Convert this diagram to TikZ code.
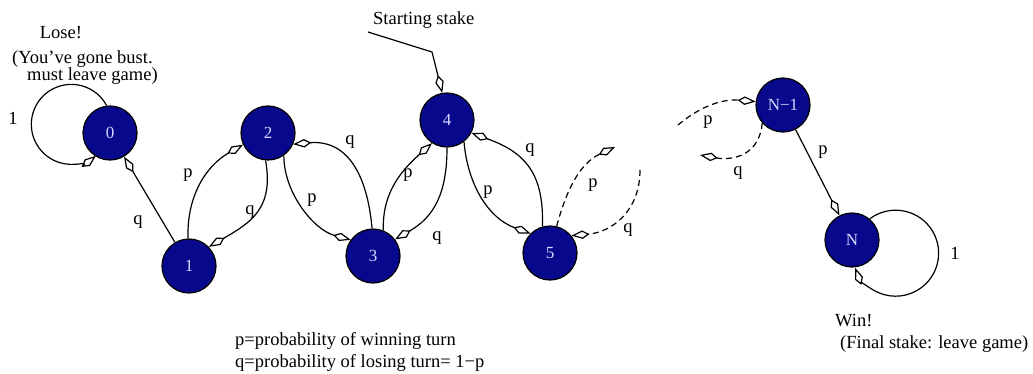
\documentclass[tikz,border=0pt]{standalone}
\usepackage{fontspec}
\setmainfont{Liberation Serif}
\usetikzlibrary{arrows.meta}
\definecolor{navy}{RGB}{8,8,140}
\definecolor{pale}{RGB}{215,215,255}
\begin{document}
\begin{tikzpicture}[x=1pt,y=1pt,
  state/.style={circle,draw=black,line width=1.2pt,fill=navy,minimum size=54pt,inner sep=0pt,text=pale,font=\fontsize{17}{20}\selectfont},
  lbl/.style={font=\fontsize{18.5}{22}\selectfont,inner sep=0pt},
  arr/.style={line width=1.2pt,-{Kite[open,length=18pt,width=8.5pt,inset=7pt,line width=1.2pt]}},
  dsh/.style={dash pattern=on 6pt off 4pt},
]
\fill[white] (0,0) rectangle (1033,373);
\useasboundingbox (0,0) rectangle (1033,373);

% states
\node[state] (n0) at (110,240) {0};
\node[state] (n1) at (189,107) {1};
\node[state] (n2) at (268,240) {2};
\node[state] (n3) at (373,117) {3};
\node[state] (n4) at (447,253) {4};
\node[state] (n5) at (550,120) {5};
\node[state] (nN1) at (783,268) {N−1};
\node[state] (nN) at (852,133) {N};

% free ends
\coordinate (ss1) at (368,341);
\coordinate (ss2) at (432,321);
\coordinate (d1) at (615,226);
\coordinate (d2) at (640,203);
\coordinate (d3) at (678,248);
\coordinate (d4) at (700,218);

% connectors
\draw[arr] (n0.97) arc[start angle=28,end angle=308,radius=40];
\draw[arr] (n1) -- (n0);
\draw[arr] (n1.92) to[out=92,in=210] (n2.205);
\draw[arr] (n2.265) to[out=280,in=30,looseness=1.2] (n1.44);
\draw[arr] (n2.305) to[out=270,in=165,looseness=0.9] (n3.144);
\draw[arr] (n3.92) to[out=95,in=5,looseness=1.2] (n2.336);
\draw[arr] (n3.68) to[out=92,in=222] (n4.237);
\draw[arr] (n4.270) to[out=270,in=30,looseness=1.1] (n3.37);
\draw[arr] (n4.308) to[out=275,in=160] (n5.135);
\draw[arr] (n5.106) to[out=88,in=340,looseness=1.2] (n4.332);
\draw[arr,dsh] (n5.76) to[out=75,in=205] (d1);
\draw[arr,dsh] (d2) to[out=270,in=5,looseness=1.1] (n5.39);
\draw[arr,dsh] (d3) to[out=40,in=175] (nN1.173);
\draw[arr,dsh] (nN1.221) to[out=265,in=350,looseness=1.2] (d4);
\draw[arr] (nN1) -- (nN);
\draw[arr] (nN.50) arc[start angle=127,end angle=-160,radius=43];
\draw[arr] (ss1) -- (ss2) -- (n4.100);

% edge labels
\node[lbl] (l0) at (13,255) {1};
\node[lbl] (l10) at (138,151) {q};
\node[lbl] (l12) at (188,198) {p};
\node[lbl] (l21) at (250,161) {q};
\node[lbl] (l23) at (312,173) {p};
\node[lbl] (l32) at (350,231) {q};
\node[lbl] (l34) at (408,198) {p};
\node[lbl] (l43) at (437,135) {q};
\node[lbl] (l45) at (488,181) {p};
\node[lbl] (l54) at (530,223) {q};
\node[lbl] (l5p) at (593,188) {p};
\node[lbl] (l5q) at (628,143) {q};
\node[lbl] (lNp) at (708,251) {p};
\node[lbl] (lNq) at (738,200) {q};
\node[lbl] (lNN) at (823,221) {p};
\node[lbl] (lN) at (955,120) {1};

% texts
\node[lbl,anchor=base] (lose) at (61,334) {Lose!};
\node[lbl,anchor=base west] (bust) at (12,309.5) {(You’ve gone bust.};
\node[lbl,anchor=base west] (leave) at (27,292) {must leave game)};
\node[lbl,anchor=base west] (start) at (373,348) {Starting stake};
\node[lbl,anchor=base west] (defp) at (235,28) {p=probability of winning turn};
\node[lbl,anchor=base west] (defq) at (235,6) {q=probability of losing turn= 1−p};
\node[lbl,anchor=base west] (win) at (835,47) {Win!};
\node[lbl,anchor=base west] (final) at (840,25) {(Final stake: leave game)};
\end{tikzpicture}
\end{document}
